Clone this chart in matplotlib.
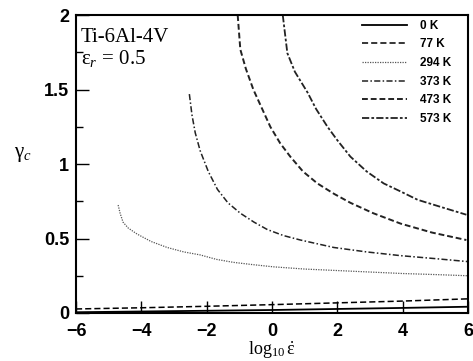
import matplotlib
matplotlib.use("Agg")
import matplotlib.pyplot as plt
from matplotlib.ticker import MultipleLocator, FixedLocator

# ---- data ----
x_0K = [-6, -4, -2, 0, 2, 4, 6]
y_0K = [0.005, 0.01, 0.015, 0.02, 0.027, 0.034, 0.042]

x_77K = [-6, -4, -2, 0, 2, 4, 6]
y_77K = [0.027, 0.035, 0.045, 0.056, 0.068, 0.08, 0.095]

x_294K = [-4.71, -4.65, -4.56, -4.4, -4.13, -3.7, -3.21, -2.7, -2.2, -1.7,
          -1.18, -0.6, 0.04, 1.0, 2.0, 3.0, 4.0, 5.0, 6.0]
y_294K = [0.725, 0.67, 0.61, 0.57, 0.53, 0.48, 0.44, 0.41, 0.39, 0.36,
          0.34, 0.325, 0.31, 0.295, 0.285, 0.275, 0.265, 0.258, 0.25]

x_373K = [-2.53, -2.45, -2.35, -2.2, -1.95, -1.67, -1.35, -0.97, -0.55, -0.14,
          0.35, 0.87, 1.89, 2.9, 3.94, 5.0, 6.0]
y_373K = [1.47, 1.33, 1.21, 1.09, 0.95, 0.83, 0.74, 0.67, 0.61, 0.56,
          0.52, 0.49, 0.44, 0.41, 0.385, 0.365, 0.345]

x_473K = [-1.05, -0.97, -0.8, -0.57, -0.3, -0.05, 0.25, 0.56, 0.95, 1.39,
          1.9, 2.4, 3.1, 3.94, 4.9, 5.95]
y_473K = [2.0, 1.77, 1.64, 1.50, 1.37, 1.25, 1.14, 1.05, 0.95, 0.87,
          0.80, 0.74, 0.67, 0.60, 0.54, 0.49]

x_573K = [0.33, 0.47, 0.7, 1.09, 1.35, 1.70, 2.0, 2.4, 2.9, 3.42, 3.9,
          4.46, 5.2, 5.95]
y_573K = [2.0, 1.745, 1.62, 1.48, 1.37, 1.25, 1.16, 1.05, 0.95, 0.87, 0.82,
          0.76, 0.71, 0.66]

labels = ["0 K", "77 K", "294 K", "373 K", "473 K", "573 K"]
x_ticks = [-6, -4, -2, 0, 2, 4, 6]
y_ticks = [0, 0.5, 1, 1.5, 2]
y_ticklabels = ["0", "0.5", "1", "1.5", "2"]

plt.rcParams["mathtext.fontset"] = "custom"
plt.rcParams["mathtext.rm"] = "Liberation Serif"
plt.rcParams["mathtext.it"] = "Liberation Serif:italic"
plt.rcParams["mathtext.bf"] = "Liberation Serif:bold"

fig = plt.figure(figsize=(4.73, 3.61), dpi=100)
ax = fig.add_axes([0.1607, 0.133, 0.8287, 0.825])

ax.plot(x_0K, y_0K, color="black", lw=1.3, ls="-", label=labels[0])
ax.plot(x_77K, y_77K, color="black", lw=1.1, ls=(0, (4, 2)), label=labels[1])
ax.plot(x_294K, y_294K, color="#555555", lw=0.9, ls=(0, (1, 1)), label=labels[2])
ax.plot(x_373K, y_373K, color="#222222", lw=1.1, ls=(0, (4, 1.5, 1, 1.5)), label=labels[3])
ax.plot(x_473K, y_473K, color="#222222", lw=1.4, ls=(0, (3, 1.5)), label=labels[4])
ax.plot(x_573K, y_573K, color="#222222", lw=1.3, ls=(0, (4, 1.2, 1.5, 1.2)), label=labels[5])

ax.set_xlim(-6, 6)
ax.set_ylim(0, 2)
ax.xaxis.set_major_locator(FixedLocator(x_ticks))
ax.set_yticks(y_ticks)
ax.set_yticklabels(y_ticklabels)
ax.yaxis.set_minor_locator(MultipleLocator(0.25))
ax.tick_params(axis="both", which="major", direction="in", length=9, width=1,
               labelsize=13, top=False, right=False)
ax.tick_params(axis="x", which="major", pad=7)
ax.tick_params(axis="y", which="major", pad=5)
ax.tick_params(axis="y", which="minor", direction="in", length=5, width=1)
for lab in ax.get_xticklabels() + ax.get_yticklabels():
    lab.set_fontfamily("Liberation Sans")
    lab.set_fontweight("bold")
for s in ax.spines.values():
    s.set_linewidth(1.5)

ax.text(0.012, 0.91, "Ti-6Al-4V", transform=ax.transAxes,
        fontsize=15, family="Liberation Serif", ha="left", va="baseline")
ax.text(0.012, 0.835, r"$\mathrm{ε}_r\,=\,\mathrm{0.5}$", transform=ax.transAxes,
        fontsize=15, ha="left", va="baseline")

ax.set_xlabel(r"$\mathrm{log}_{10}\,\dot{\mathrm{ε}}$", fontsize=13)
ax.xaxis.set_label_coords(0.5, -0.09)
ax.set_ylabel(r"$\mathrm{γ}_c$", fontsize=15, rotation=0, labelpad=0)
ax.yaxis.set_label_coords(-0.135, 0.5)

leg = ax.legend(loc="upper right", bbox_to_anchor=(0.969, 1.0), frameon=False,
                prop={"family": "Liberation Sans", "weight": "bold", "size": 8.5},
                handlelength=3.8, handletextpad=1.1, labelspacing=0.56,
                borderaxespad=0.0, borderpad=0.4)

fig.savefig("out.png", dpi=100)
